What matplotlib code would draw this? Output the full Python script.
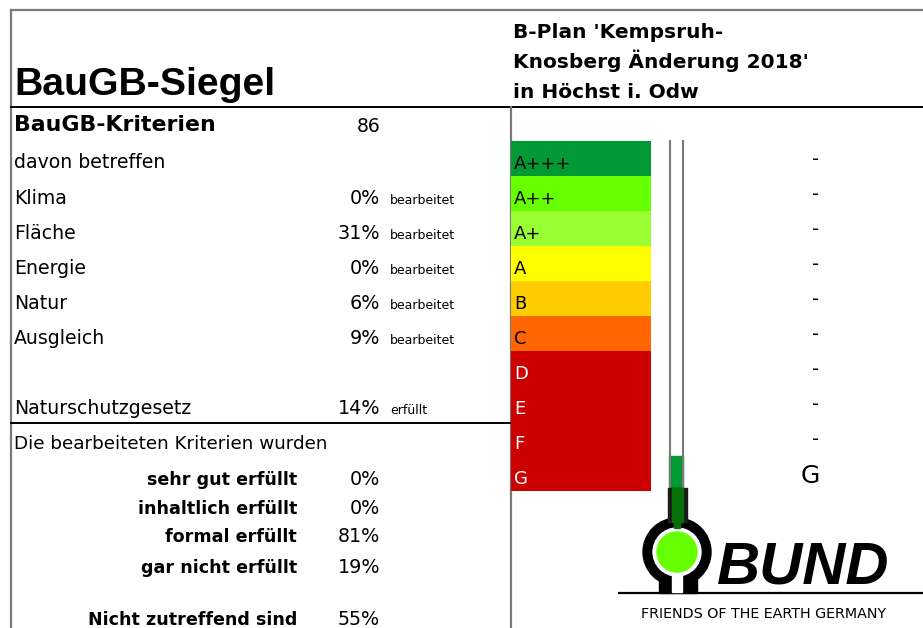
import matplotlib
matplotlib.use("Agg")
import matplotlib.pyplot as plt
from matplotlib.patches import Circle, Rectangle

# ---------------- data ----------------
title_left = "BauGB-Siegel"
title_right = ["B-Plan 'Kempsruh-", "Knosberg Änderung 2018'", "in Höchst i. Odw"]
criteria_total = 86
topic_labels = ["Klima", "Fläche", "Energie", "Natur", "Ausgleich"]
topic_pct = [0, 31, 0, 6, 9]
naturschutz_pct = 14
fulfil_labels = ["sehr gut erfüllt", "inhaltlich erfüllt", "formal erfüllt", "gar nicht erfüllt"]
fulfil_pct = [0, 0, 81, 19]
not_applicable_pct = 55
classes = ["A+++", "A++", "A+", "A", "B", "C", "D", "E", "F", "G"]
class_marks = ["-", "-", "-", "-", "-", "-", "-", "-", "-", "G"]
result_class = "G"
band_colors = ["#009933", "#66ff00", "#99ff33", "#ffff00", "#ffcc00",
               "#ff6600", "#cc0000", "#cc0000", "#cc0000", "#cc0000"]
label_colors = ["black"] * 6 + ["white"] * 4

# ---------------- figure ----------------
fig = plt.figure(figsize=(9.23, 6.28), dpi=100)
ax = fig.add_axes([0, 0, 1, 1])
ax.set_xlim(0, 923)
ax.set_ylim(628, 0)
ax.axis("off")

GRAY = "#7a7a7a"
# frame lines
ax.plot([11, 923], [10, 10], color=GRAY, lw=1.6)
ax.plot([11, 11], [10, 628], color=GRAY, lw=1.6)
ax.plot([11, 923], [106.5, 106.5], color="black", lw=1.4)
ax.plot([511, 511], [106.5, 628], color=GRAY, lw=1.6)
ax.plot([11, 511], [422.5, 422.5], color="black", lw=1.4)
ax.plot([619, 923], [593, 593], color="black", lw=1.6)

# titles
ax.text(14, 95, title_left, family="Liberation Sans", weight="bold",
        fontsize=28.3, va="baseline", ha="left")
for i, line in enumerate(title_right):
    ax.text(513, 38 + 30 * i, line, weight="bold", fontsize=14.5,
            va="baseline", ha="left")

# left table
BODY = 13.6
SMALL = 9.0
ax.text(14, 131, "BauGB-Kriterien", weight="bold", fontsize=15.8, va="baseline")
ax.text(380, 132, f"{criteria_total}", fontsize=13.5, va="baseline", ha="right")
ax.text(14, 168.5, "davon betreffen", fontsize=BODY, va="baseline")
for i, (lab, p) in enumerate(zip(topic_labels, topic_pct)):
    yb = 204 + 35 * i
    ax.text(14, yb, lab, fontsize=BODY, va="baseline")
    ax.text(380, yb, f"{p}%", fontsize=13.8, va="baseline", ha="right")
    ax.text(390, yb, "bearbeitet", fontsize=SMALL, va="baseline")
ax.text(14, 414, "Naturschutzgesetz", fontsize=BODY, va="baseline")
ax.text(380, 414, f"{naturschutz_pct}%", fontsize=13.8, va="baseline", ha="right")
ax.text(390, 414, "erfüllt", fontsize=SMALL, va="baseline")

ax.text(14, 449, "Die bearbeiteten Kriterien wurden", fontsize=13.2, va="baseline")
for lab, p, yb in zip(fulfil_labels, fulfil_pct, [485, 513.5, 542, 573]):
    ax.text(297, yb, lab, weight="bold", fontsize=12.6, va="baseline", ha="right")
    ax.text(380, yb, f"{p}%", fontsize=13.8, va="baseline", ha="right")
ax.text(297, 625, "Nicht zutreffend sind", weight="bold", fontsize=12.6,
        va="baseline", ha="right")
ax.text(380, 625, f"{not_applicable_pct}%", fontsize=13.8, va="baseline", ha="right")

# class bands
BAND_TOP = 141
BAND_H = 35
centers = [BAND_TOP + BAND_H * (i + 0.5) for i in range(len(classes))]
ax.barh(centers, [140] * len(classes), left=511, height=BAND_H,
        color=band_colors, edgecolor="none", zorder=2)
for i, (c, lc, m) in enumerate(zip(classes, label_colors, class_marks)):
    top = BAND_TOP + BAND_H * i
    ax.text(514, top + 28, c, color=lc, fontsize=13, va="baseline", zorder=3)
    if m == "-":
        ax.text(816, top + 24, m, fontsize=14, va="baseline", ha="center")
    else:
        ax.text(810, top + 27, m, fontsize=18, va="baseline", ha="center")

# thermometer
k = classes.index(result_class)
fill_top = BAND_TOP + BAND_H * k
tube_bottom = BAND_TOP + BAND_H * len(classes) - 3
ax.add_patch(Rectangle((669, fill_top), 14, tube_bottom - fill_top,
                       color="#009933", zorder=2))
ax.plot([669.5, 669.5], [BAND_TOP, tube_bottom], color=GRAY, lw=1.5, zorder=3)
ax.plot([682.5, 682.5], [BAND_TOP, tube_bottom], color=GRAY, lw=1.5, zorder=3)

# BUND logo
cx, cy = 677, 552
ax.add_patch(Circle((cx, cy), 34, color="black", zorder=4))
ax.add_patch(Rectangle((659, 568), 38, 25, color="black", zorder=4))
ax.add_patch(Circle((cx, cy), 24, color="white", zorder=5))
ax.add_patch(Rectangle((672, 566), 10, 26, color="white", zorder=5))
ax.add_patch(Circle((cx, cy), 20, color="#66ff00", zorder=6))
ax.add_patch(Rectangle((668, tube_bottom), 19, 34, color="#1a1a1a", zorder=6))
ax.add_patch(Rectangle((672, tube_bottom), 11, 34, color="#087008", zorder=7))
ax.add_patch(Rectangle((674, tube_bottom + 30), 6, 10, color="#087008", zorder=7))

ax.text(717, 583, "BUND", family="Liberation Sans", weight="bold", style="italic",
        fontsize=43, va="baseline", ha="left", zorder=8)
ax.text(641, 618, "FRIENDS OF THE EARTH GERMANY", fontsize=10.3,
        va="baseline", ha="left")

fig.savefig("out.png", dpi=100)
